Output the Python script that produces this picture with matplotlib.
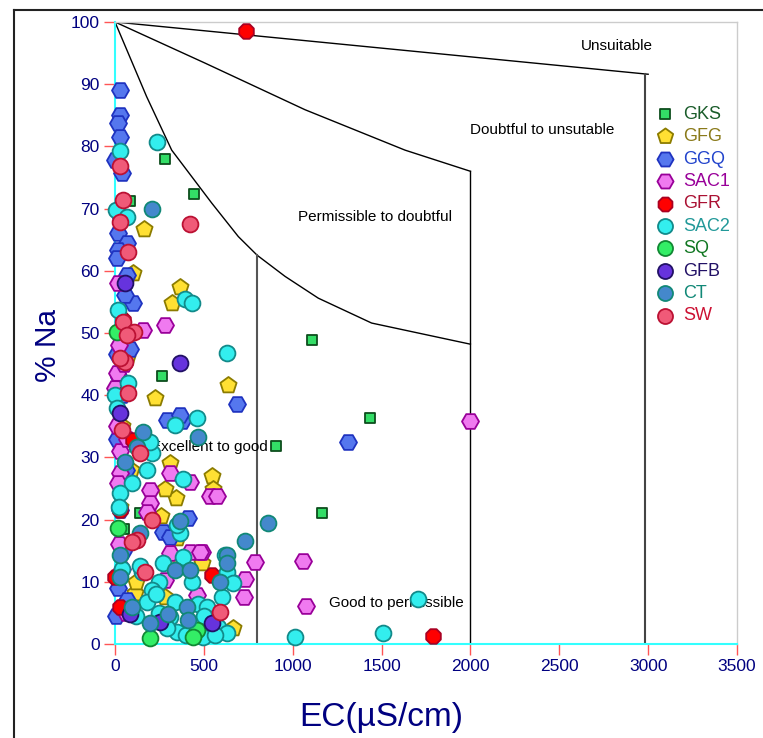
import numpy as np
import matplotlib
matplotlib.use("Agg")
from matplotlib import pyplot as plt
from matplotlib import font_manager
from matplotlib.lines import Line2D

plt.rcParams['font.family'] = ['Liberation Sans', 'DejaVu Sans']
installed = {f.name for f in font_manager.fontManager.ttflist}
tick_font = 'Liberation Sans Narrow' if 'Liberation Sans Narrow' in installed else 'Liberation Sans'

# boundary lines of the Wilcox diagram (EC, %Na)
curve_exc_x = [0, 178, 319, 544, 694, 800]
curve_exc_y = [100, 88.0, 79.4, 70.9, 65.5, 62.5]
curve_perm_x = [800, 957, 1144, 1444, 2000]
curve_perm_y = [62.5, 59.1, 55.6, 51.6, 48.2]
curve_doubt_x = [0, 506, 1069, 1632, 2000]
curve_doubt_y = [100, 93.4, 85.9, 79.4, 76.0]
curve_unsuit_x = [0, 3000]
curve_unsuit_y = [100, 91.6]

# samples
gks_x = [281, 445, 84, 264, 1107, 906, 1435, 1165, 50, 141]
gks_y = [77.9, 72.3, 71.2, 43.1, 48.9, 31.8, 36.3, 21.1, 18.5, 21.0]

gfg_x = [163, 366, 319, 636, 225, 546, 551, 343, 309, 281, 337, 112, 281, 664, 488, 101, 347, 60, 70, 40, 90, 30, 120, 80, 260]
gfg_y = [66.7, 57.4, 54.8, 41.6, 39.5, 27.0, 25.0, 23.5, 29.1, 25.0, 13.2, 8.2, 7.6, 2.6, 13.0, 59.6, 17.0, 58.6, 46.0, 35.0, 28.0, 22.0, 10.0, 5.0, 20.5]

ggq_x = [28, 28, 15, 28, 0, 38, 17, 66, 17, 9, 66, 103, 56, 9, 84, 686, 377, 1311, 291, 366, 270, 411, 309, 20, 40, 10, 60, 30, 45, 15, 70, 5, 35]
ggq_y = [89.0, 85.0, 83.8, 81.5, 77.8, 75.8, 66.0, 64.5, 63.3, 62.0, 59.3, 54.8, 56.1, 46.7, 47.5, 38.6, 35.9, 32.5, 36.0, 36.8, 18.0, 20.3, 17.2, 43.0, 40.0, 33.0, 28.0, 21.5, 15.0, 9.0, 7.0, 4.5, 68.5]

sac1_x = [1998, 281, 788, 1060, 1075, 731, 728, 535, 572, 422, 488, 309, 422, 197, 197, 178, 28, 17, 309, 478, 281, 460, 516, 9, 0, 159, 10, 30, 50, 20, 40, 60, 15, 25, 70]
sac1_y = [35.9, 51.3, 13.2, 13.3, 6.1, 10.4, 7.6, 23.8, 23.8, 14.8, 14.8, 27.5, 26.1, 24.8, 22.6, 21.3, 27.5, 25.9, 14.6, 14.8, 10.3, 7.9, 4.4, 43.5, 41.1, 50.5, 35.0, 31.0, 45.0, 16.0, 12.0, 5.0, 58.0, 48.0, 33.0]

gfr_x = [737, 1789, 28, 544, 47, 28, 103, 0, 60]
gfr_y = [98.6, 1.3, 21.5, 11.1, 52.1, 6.0, 32.8, 10.8, 40.5]

sac2_x = [238, 28, 394, 435, 628, 460, 338, 1705, 1013, 1510, 17, 0, 75, 186, 206, 178, 94, 385, 28, 366, 347, 272, 385, 431, 249, 206, 178, 338, 469, 309, 347, 497, 581, 628, 656, 628, 619, 666, 600, 6, 66, 197, 10, 40, 20, 120, 150, 230, 290, 520, 545, 560, 500, 400, 250, 140]
sac2_y = [80.7, 79.3, 55.4, 54.8, 46.8, 36.3, 35.2, 7.2, 1.2, 1.8, 53.7, 40.0, 42.0, 32.3, 30.7, 28.0, 25.9, 26.6, 24.2, 17.8, 19.1, 13.0, 14.0, 10.0, 10.0, 8.7, 6.8, 6.8, 6.5, 4.4, 2.0, 1.2, 2.8, 1.7, 10.0, 11.6, 14.3, 9.8, 7.6, 69.8, 68.7, 32.5, 38.0, 12.0, 22.0, 4.5, 11.5, 8.0, 2.5, 6.0, 4.0, 1.5, 4.5, 1.5, 5.0, 12.5]

sq_x = [197, 460, 441, 19, 9]
sq_y = [0.9, 2.3, 1.2, 18.6, 50.2]

gfb_x = [366, 56, 28, 84, 253, 544]
gfb_y = [45.1, 58.0, 37.1, 4.9, 3.6, 3.3]

ct_x = [210, 469, 861, 731, 366, 141, 28, 28, 338, 422, 628, 628, 591, 94, 197, 300, 403, 413, 159, 122, 56]
ct_y = [69.9, 33.3, 19.5, 16.6, 19.7, 17.8, 14.3, 10.8, 11.9, 11.9, 14.3, 13.0, 10.0, 6.0, 3.3, 4.9, 6.0, 3.9, 34.1, 31.7, 29.3]

sw_x = [28, 47, 28, 422, 71, 47, 109, 66, 56, 28, 75, 38, 141, 206, 122, 94, 169, 591]
sw_y = [76.8, 71.4, 67.8, 67.6, 63.0, 51.8, 50.2, 49.7, 45.4, 46.0, 40.3, 34.4, 30.7, 19.9, 16.7, 16.4, 11.6, 5.2]

# name, x, y, marker, size, face, edge, label colour
groups = [
    ("GKS", gks_x, gks_y, "s", 55, "#33dd66", "#0d4d1d", "#1a5c2a"),
    ("GFG", gfg_x, gfg_y, "p", 150, "#ffe033", "#8c7c00", "#8a7a1a"),
    ("GGQ", ggq_x, ggq_y, "H", 150, "#5577ee", "#1f33c0", "#2244cc"),
    ("SAC1", sac1_x, sac1_y, "H", 150, "#f07af0", "#990099", "#990099"),
    ("GFR", gfr_x, gfr_y, "8", 130, "#ff0000", "#aa0022", "#aa1133"),
    ("SAC2", sac2_x, sac2_y, "o", 130, "#33eeee", "#128a8a", "#229999"),
    ("SQ", sq_x, sq_y, "o", 130, "#33ee66", "#118833", "#117722"),
    ("GFB", gfb_x, gfb_y, "o", 130, "#6633dd", "#221166", "#221166"),
    ("CT", ct_x, ct_y, "o", 130, "#4488cc", "#118877", "#118877"),
    ("SW", sw_x, sw_y, "o", 130, "#f05a78", "#bb1133", "#cc1133"),
]

fig = plt.figure(figsize=(7.63, 7.38), dpi=100)
ax = fig.add_axes([115 / 763, 1 - 644 / 738, 622 / 763, 622 / 738])

# outer frame (only top and left show in the crop)
fig.add_artist(Line2D([14 / 763, 14 / 763], [0, 1 - 10 / 738], color="#222222", lw=1.5))
fig.add_artist(Line2D([14 / 763, 1], [1 - 10 / 738, 1 - 10 / 738], color="#222222", lw=1.5))

# zone boundaries
ax.plot(curve_exc_x, curve_exc_y, color="black", lw=1)
ax.plot(curve_perm_x, curve_perm_y, color="black", lw=1)
ax.plot(curve_doubt_x, curve_doubt_y, color="black", lw=1)
ax.plot(curve_unsuit_x, curve_unsuit_y, color="black", lw=1)
ax.plot([800, 800], [0, curve_exc_y[-1]], color="#555555", lw=1.5)
ax.plot([2000, 2000], [0, curve_doubt_y[-1]], color="black", lw=1)
ax.plot([2980, 2980], [0, curve_unsuit_y[-1]], color="#444444", lw=1.5)

ax.text(2825, 96.1, "Unsuitable", fontsize=11, ha="center", va="center")
ax.text(2403, 82.6, "Doubtful to unsutable", fontsize=11, ha="center", va="center")
ax.text(1463, 68.6, "Permissible to doubtful", fontsize=11, ha="center", va="center")
ax.text(529, 31.7, "Excellent to good", fontsize=11, ha="center", va="center")
ax.text(1581, 6.6, "Good to permissible", fontsize=11, ha="center", va="center")

handles = []
for name, xs, ys, m, s, fc, ec, lc in groups:
    h = ax.scatter(xs, ys, marker=m, s=s, facecolor=fc, edgecolor=ec,
                   linewidth=1.3, clip_on=False, zorder=3, label=name)
    handles.append(h)

leg = ax.legend(handles=handles, loc="upper left", bbox_to_anchor=(0.852, 0.88),
                frameon=False, fontsize=13, labelspacing=0.3, handletextpad=0.4,
                handlelength=1.2, borderpad=0, labelcolor=[g[7] for g in groups],
                scatterpoints=1)
for h, g in zip(leg.legend_handles, groups):
    h.set_sizes([g[4] * 0.9])

ax.set_xlim(0, 3500)
ax.set_ylim(0, 100)
ax.set_xticks(np.arange(0, 3501, 500))
ax.set_yticks(np.arange(0, 101, 10))
ax.tick_params(direction="out", length=8, width=1, color="#ff5555",
               labelcolor="#000080", labelsize=12.5, pad=3)
for lab in ax.get_xticklabels() + ax.get_yticklabels():
    lab.set_fontfamily(tick_font)
for side in ("left", "bottom"):
    ax.spines[side].set_color("#33ffff")
    ax.spines[side].set_linewidth(1.5)
for side in ("top", "right"):
    ax.spines[side].set_color("#cccccc")
    ax.spines[side].set_linewidth(1)

ax.set_xlabel("EC(µS/cm)", fontsize=24, color="#000080")
ax.set_ylabel("% Na", fontsize=21.5, color="#000080")
ax.xaxis.set_label_coords(0.428, -0.094)
ax.yaxis.set_label_coords(-0.086, 0.48)

fig.savefig("out.png", dpi=100)
